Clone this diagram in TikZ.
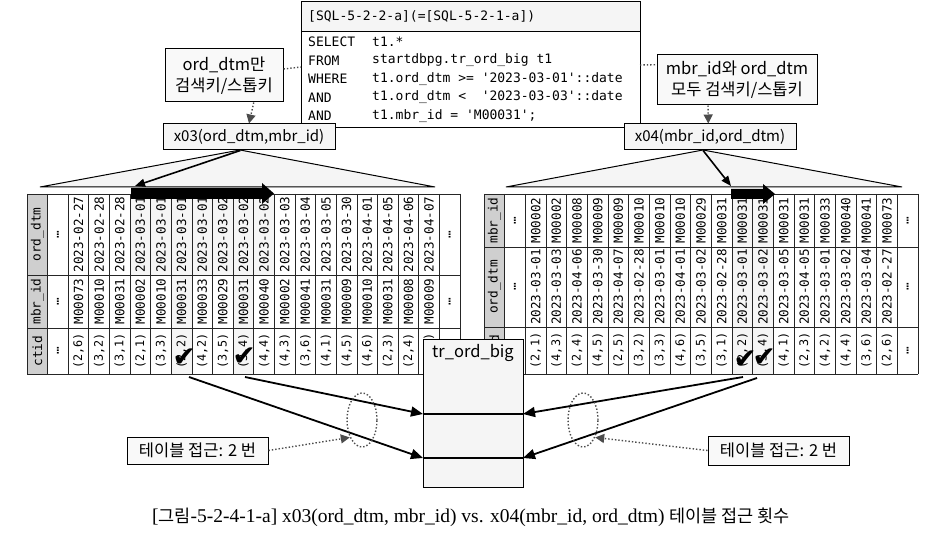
\documentclass[tikz,border=0pt]{standalone}
\usepackage{fontspec}
\setmainfont{Liberation Serif}
\newfontfamily\kr{Noto Sans CJK KR}
\newfontfamily\mono{DejaVu Sans Mono}
\newfontfamily\sym{DejaVu Sans}
\usetikzlibrary{arrows.meta,calc,shapes.geometric}
\tikzset{
  frame/.style={draw=black, line width=1pt},
  lbl/.style={frame, fill=gray!5, font=\kr\fontsize{16.5}{21}\selectfont, align=center, inner sep=1pt},
  idx/.style={frame, fill=gray!8, font=\kr\fontsize{15}{18}\selectfont, inner sep=0pt, minimum width=172pt, minimum height=26pt},
  code/.style={anchor=west, inner sep=0pt, font=\mono\fontsize{13}{15}\selectfont},
  grid/.style={draw=black!85, line width=0.8pt},
  hl/.style={fill=gray!8},
  hdrfill/.style={fill=gray!38},
  cell/.style={rotate=90, inner sep=0pt, font=\mono\fontsize{12.6}{14}\selectfont},
  ctidcell/.style={rotate=90, inner sep=0pt, font=\mono\fontsize{11.8}{13}\selectfont},
  hdrcell/.style={rotate=90, inner sep=0pt, font=\mono\fontsize{12.8}{14}\selectfont},
  tri/.style={draw=black, fill=gray!8, line width=1pt},
  ptr/.style={line width=1.6pt, -{Triangle[length=10pt,width=8pt]}},
  conn/.style={line width=1.8pt, -{Triangle[length=12pt,width=10pt]}},
  dotc/.style={draw=black!70, line width=1.4pt, dotted},
  dotarrow/.style={dotc, -{Triangle[length=9pt,width=9pt,fill=black!70]}},
  check/.style={inner sep=0pt, font=\sym\fontsize{28}{28}\selectfont},
  bigarrow/.style={fill=black},
}
\begin{document}
\begin{tikzpicture}[x=1pt,y=-1pt]
\useasboundingbox (0,0) rectangle (942,540);
\fill[white] (0,0) rectangle (942,540);

% ---------- SQL box ----------
\node[frame, fill=white, minimum width=339pt, minimum height=126pt, anchor=north west, inner sep=0pt] (sql) at (301,1) {};
\node[frame, fill=gray!8, minimum width=339pt, minimum height=30pt, anchor=north west, inner sep=0pt] (sqlt) at (301,1) {};
\node[code] (sqltitle) at (308,16) {[SQL-5-2-2-a](=[SQL-5-2-1-a])};
\node[code] (k1) at (308,42) {SELECT};
\node[code] (c1) at (372,42) {t1.*};
\node[code] (k2) at (308,60.5) {FROM};
\node[code] (c2) at (372,60.5) {startdbpg.tr\_ord\_big t1};
\node[code] (k3) at (308,79) {WHERE};
\node[code] (c3) at (372,79) {t1.ord\_dtm >= \textquotesingle2023-03-01\textquotesingle::date};
\node[code] (k4) at (308,97.5) {AND};
\node[code] (c4) at (372,97.5) {t1.ord\_dtm <~ \textquotesingle2023-03-03\textquotesingle::date};
\node[code] (k5) at (308,116) {AND};
\node[code] (c5) at (372,116) {t1.mbr\_id = \textquotesingle M00031\textquotesingle;};

% ---------- triangles ----------
\draw[tri] (40,187) -- (240,150) -- (435,187) -- cycle;
\draw[tri] (506,187) -- (703,150) -- (902,187) -- cycle;

% ---------- top labels and index boxes ----------
\node[lbl, minimum width=118pt, minimum height=53pt] (labA) at (224,75.5) {ord\_dtm만\\검색키/스톱키};
\node[lbl, minimum width=160pt, minimum height=50pt] (labB) at (737,80) {mbr\_id와 ord\_dtm\\모두 검색키/스톱키};
\node[idx] (x03) at (249,137) {x03(ord\_dtm,mbr\_id)};
\node[idx] (x04) at (710,137) {x04(mbr\_id,ord\_dtm)};
\coordinate (sqlL) at (301,67);
\coordinate (sqlR) at (640,65);
\draw[dotc] ($(labA.north east)!0.38!(labA.south east)$) -- (sqlL);
\draw[dotc] (sqlR) -- ($(labB.north west)!0.2!(labB.south west)$);
\draw[dotarrow] ($(labA.south west)!0.75!(labA.south east)$) -- (x03.north);
\draw[dotarrow] ($(labB.south west)!0.32!(labB.south east)$) -- ($(x04.north west)!0.49!(x04.north east)$);

% ---------- left table ----------
\def\Lw{20.62}
\fill[hdrfill] (27,194) rectangle ({27+\Lw},374);
\foreach \i in {4,...,10} \fill[hl] ({27+(\i+1)*\Lw},194) rectangle ({27+(\i+2)*\Lw},275);
\foreach \i in {6,9} \fill[hl] ({27+(\i+1)*\Lw},275) rectangle ({27+(\i+2)*\Lw},374);
\foreach \c in {0,...,21} \draw[grid] ({27+\c*\Lw},194) -- ({27+\c*\Lw},374);
\foreach \y in {194,275,328,374} \draw[grid] (27,\y) -- ({27+21*\Lw},\y);
\node[hdrcell] (Lh1) at ({27+0.5*\Lw},234.5) {ord\_dtm};
\node[hdrcell] (Lh2) at ({27+0.5*\Lw},301.5) {mbr\_id};
\node[hdrcell] (Lh3) at ({27+0.5*\Lw},351) {ctid};
\foreach \r/\y in {1/234.5,2/301.5,3/351} {
  \node[cell] (Le\r) at ({27+1.5*\Lw},\y) {…};
  \node[cell] (Lf\r) at ({27+20.5*\Lw},\y) {…};
}
\foreach \d [count=\i] in {2023-02-27,2023-02-28,2023-02-28,2023-03-01,2023-03-01,2023-03-01,2023-03-01,2023-03-02,2023-03-02,2023-03-02,2023-03-03,2023-03-04,2023-03-05,2023-03-30,2023-04-01,2023-04-05,2023-04-06,2023-04-07}
  \node[cell] (La\i) at ({27+(\i+1.5)*\Lw},234.5) {\d};
\foreach \m [count=\i] in {M00073,M00010,M00031,M00002,M00010,M00031,M00033,M00029,M00031,M00040,M00002,M00041,M00031,M00009,M00010,M00031,M00008,M00009}
  \node[cell] (Lb\i) at ({27+(\i+1.5)*\Lw},301.5) {\m};
\foreach \a/\b [count=\i] in {2/6,3/2,3/1,2/1,3/3,2/2,4/2,3/5,3/4,4/4,4/3,3/6,4/1,4/5,4/6,2/3,2/4,2/5}
  \node[ctidcell] (Lc\i) at ({27+(\i+1.5)*\Lw},351) {(\a,\b)};

% ---------- right table ----------
\def\Rw{20.67}
\fill[hdrfill] (484,194) rectangle ({484+\Rw},374);
\foreach \i in {11,12} \fill[hl] ({484+(\i+1)*\Rw},194) rectangle ({484+(\i+2)*\Rw},374);
\foreach \c in {0,...,21} \draw[grid] ({484+\c*\Rw},194) -- ({484+\c*\Rw},374);
\foreach \y in {194,247,327,374} \draw[grid] (484,\y) -- ({484+21*\Rw},\y);
\node[hdrcell] (Rh1) at ({484+0.5*\Rw},220.5) {mbr\_id};
\node[hdrcell] (Rh2) at ({484+0.5*\Rw},287) {ord\_dtm};
\node[hdrcell] (Rh3) at ({484+0.5*\Rw},350.5) {ctid};
\foreach \r/\y in {1/220.5,2/287,3/350.5} {
  \node[cell] (Re\r) at ({484+1.5*\Rw},\y) {…};
  \node[cell] (Rf\r) at ({484+20.5*\Rw},\y) {…};
}
\foreach \m [count=\i] in {M00002,M00002,M00008,M00009,M00009,M00010,M00010,M00010,M00029,M00031,M00031,M00031,M00031,M00031,M00033,M00040,M00041,M00073}
  \node[cell] (Rb\i) at ({484+(\i+1.5)*\Rw},220.5) {\m};
\foreach \d [count=\i] in {2023-03-01,2023-03-03,2023-04-06,2023-03-30,2023-04-07,2023-02-28,2023-03-01,2023-04-01,2023-03-02,2023-02-28,2023-03-01,2023-03-02,2023-03-05,2023-04-05,2023-03-01,2023-03-02,2023-03-04,2023-02-27}
  \node[cell] (Ra\i) at ({484+(\i+1.5)*\Rw},287) {\d};
\foreach \a/\b [count=\i] in {2/1,4/3,2/4,4/5,2/5,3/2,3/3,4/6,3/5,3/1,2/2,3/4,4/1,2/3,4/2,4/4,3/6,2/6}
  \node[ctidcell] (Rc\i) at ({484+(\i+1.5)*\Rw},350.5) {(\a,\b)};

% ---------- scan arrows ----------
\coordinate (tipL) at (135,186);
\coordinate (tipR) at (731,186);
\draw[ptr] ($(x03.south west)!0.45!(x03.south east)$) -- (tipL);
\draw[ptr] ($(x04.south west)!0.46!(x04.south east)$) -- (tipR);
\fill[bigarrow] (131,188) -- (262,188) -- (262,183) -- (274,193.5) -- (262,204) -- (262,199) -- (131,199) -- cycle;
\fill[bigarrow] (731,189) -- (763,189) -- (763,184) -- (775,194) -- (763,204) -- (763,199) -- (731,199) -- cycle;

% ---------- check marks ----------
\node[check] (ckL1) at (184,358) {✔};
\node[check] (ckL2) at (244,357) {✔};
\node[check] (ckR1) at (745,360) {✔};
\node[check] (ckR2) at (764,358) {✔};

% ---------- table box ----------
\node[frame, fill=gray!8, minimum width=100pt, minimum height=148pt, anchor=north west, inner sep=0pt] (tob) at (423,339) {};
\node[font=\kr\fontsize{16.5}{18}\selectfont, inner sep=0pt] (tobt) at (473,353) {tr\_ord\_big};
\coordinate (r1L) at (423,414);
\coordinate (r1R) at (523,414);
\coordinate (r2L) at (423,458);
\coordinate (r2R) at (523,458);
\draw[line width=2pt] (r1L) -- (r1R);
\draw[line width=2pt] (r2L) -- (r2R);

% ---------- access arrows ----------
\coordinate (sL1) at (189,377);
\coordinate (sL2) at (245,377);
\coordinate (sR1) at (743,377);
\coordinate (sR2) at (757,378);
\draw[conn] (sL1) -- (r2L);
\draw[conn] (sL2) -- (r1L);
\draw[conn] (sR1) -- (r1R);
\draw[conn] (sR2) -- (r2R);

% ---------- access count ----------
\node[dotc, ellipse, minimum width=30pt, minimum height=54pt, inner sep=0pt] (elL) at (362,420) {};
\node[dotc, ellipse, minimum width=30pt, minimum height=54pt, inner sep=0pt] (elR) at (583,420) {};
\node[lbl, minimum width=141pt, minimum height=27pt] (accL) at (197.5,450.5) {테이블 접근: 2 번};
\node[lbl, minimum width=141pt, minimum height=29pt] (accR) at (778.5,450.5) {테이블 접근: 2 번};
\draw[dotarrow] (accL.east) -- (elL.235);
\draw[dotarrow] (accR.west) -- (elR.305);

% ---------- caption ----------
\node[font=\fontsize{19.5}{23}\selectfont, inner sep=0pt] (cap) at (471,517) {[{\kr\fontsize{17.5}{23}\selectfont 그림}-5-2-4-1-a] x03(ord\_dtm, mbr\_id) vs. x04(mbr\_id, ord\_dtm) {\kr\fontsize{17.5}{23}\selectfont 테이블 접근 횟수}};
\end{tikzpicture}
\end{document}
